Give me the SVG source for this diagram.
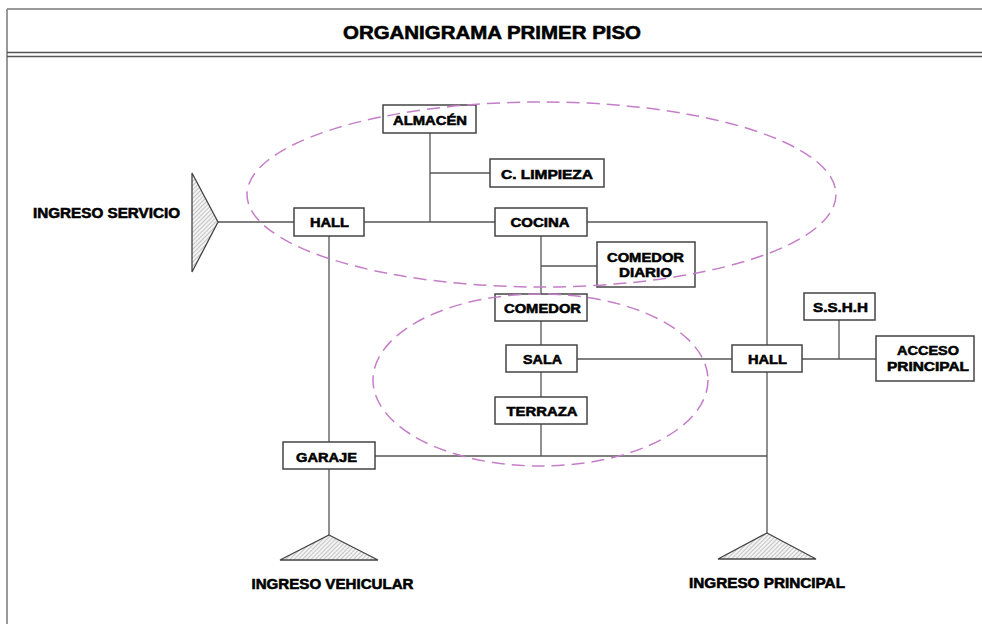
<svg xmlns="http://www.w3.org/2000/svg" width="982" height="624" viewBox="0 0 982 624">
  <defs>
    <pattern id="hatch" patternUnits="userSpaceOnUse" width="3" height="3" patternTransform="rotate(45)">
      <rect width="3" height="3" fill="#f4f4f4"/>
      <line x1="0" y1="0" x2="0" y2="3" stroke="#888" stroke-width="0.9"/>
    </pattern>
    <style>
      .frame { fill: none; stroke: #999; stroke-width: 2; }
      .rule { stroke: #555; stroke-width: 1.3; }
      .box { fill: #fff; stroke: #444; stroke-width: 1.5; }
      .wire { fill: none; stroke: #555; stroke-width: 1.3; }
      .entry { fill: url(#hatch); stroke: #444; stroke-width: 1.3; }
      .zone { fill: none; stroke: #c47ec8; stroke-width: 1.5; stroke-dasharray: 13 7; }
      text { font-family: "Liberation Sans", Arial, sans-serif; font-weight: bold; fill: #000; stroke: #000; stroke-width: 0.55; text-anchor: middle; }
      .lbl { font-size: 13px; }
      .big { font-size: 14px; }
      .title { font-size: 17.5px; }
    </style>
  </defs>

  <rect width="982" height="624" fill="#fff"/>

  <!-- sheet frame and header -->
  <g id="frame">
    <line x1="7" y1="9" x2="982" y2="9" class="frame"/>
    <line x1="7" y1="9" x2="7" y2="624" class="frame"/>
    <line x1="7" y1="52.5" x2="982" y2="52.5" class="rule"/>
    <line x1="7" y1="56.5" x2="982" y2="56.5" class="rule"/>
    <text x="492" y="39.3" class="title" textLength="298" lengthAdjust="spacingAndGlyphs">ORGANIGRAMA PRIMER PISO</text>
  </g>

  <!-- connectors -->
  <g id="connectors">
    <path class="wire" d="M218 222 H294 M364 222 H495"/>
    <path class="wire" d="M430 133 V222 M430 173 H490"/>
    <path class="wire" d="M587 222 H767 V345 M767 372 V533"/>
    <path class="wire" d="M541 236 V294 M541 266 H597"/>
    <path class="wire" d="M541 321 V345 M541 372 V397 M541 424 V456"/>
    <path class="wire" d="M577 359 H732 M802 359 H876 M839 320 V359"/>
    <path class="wire" d="M329 236 V442 M329 469 V535"/>
    <path class="wire" d="M375 456 H767"/>
  </g>

  <!-- entrances -->
  <g id="ingreso-servicio">
    <polygon class="entry" points="192,173 218,222 192,272"/>
    <text x="106.5" y="218" class="big" textLength="147" lengthAdjust="spacingAndGlyphs">INGRESO SERVICIO</text>
  </g>
  <g id="ingreso-vehicular">
    <polygon class="entry" points="329,535 378,560 280,560"/>
    <text x="332.5" y="589" class="big" textLength="162" lengthAdjust="spacingAndGlyphs">INGRESO VEHICULAR</text>
  </g>
  <g id="ingreso-principal">
    <polygon class="entry" points="767,533 816,559 718,559"/>
    <text x="767" y="588" class="big" textLength="156" lengthAdjust="spacingAndGlyphs">INGRESO PRINCIPAL</text>
  </g>

  <!-- rooms -->
  <g id="almacen">
    <rect class="box" x="383" y="105" width="93" height="28"/>
    <text x="430" y="124.5" class="lbl" textLength="74" lengthAdjust="spacingAndGlyphs">ALMACÉN</text>
  </g>
  <g id="c-limpieza">
    <rect class="box" x="490" y="159" width="114" height="28"/>
    <text x="547" y="179" class="lbl" textLength="92" lengthAdjust="spacingAndGlyphs">C. LIMPIEZA</text>
  </g>
  <g id="hall-servicio">
    <rect class="box" x="294" y="208" width="70" height="28"/>
    <text x="329.5" y="227.3" class="lbl" textLength="39" lengthAdjust="spacingAndGlyphs">HALL</text>
  </g>
  <g id="cocina">
    <rect class="box" x="495" y="208" width="92" height="28"/>
    <text x="540" y="227.3" class="lbl" textLength="59" lengthAdjust="spacingAndGlyphs">COCINA</text>
  </g>
  <g id="comedor-diario">
    <rect class="box" x="597" y="242" width="98" height="45"/>
    <text x="645.5" y="261.5" class="lbl" textLength="77" lengthAdjust="spacingAndGlyphs">COMEDOR</text>
    <text x="645.5" y="277.3" class="lbl" textLength="53" lengthAdjust="spacingAndGlyphs">DIARIO</text>
  </g>
  <g id="comedor">
    <rect class="box" x="495" y="294" width="92" height="27"/>
    <text x="542.5" y="312.7" class="lbl" textLength="77" lengthAdjust="spacingAndGlyphs">COMEDOR</text>
  </g>
  <g id="sala">
    <rect class="box" x="506" y="345" width="71" height="27"/>
    <text x="542.5" y="364.3" class="lbl" textLength="39" lengthAdjust="spacingAndGlyphs">SALA</text>
  </g>
  <g id="terraza">
    <rect class="box" x="495" y="397" width="92" height="27"/>
    <text x="542" y="415.7" class="lbl" textLength="71" lengthAdjust="spacingAndGlyphs">TERRAZA</text>
  </g>
  <g id="garaje">
    <rect class="box" x="283" y="442" width="92" height="27"/>
    <text x="326.5" y="461.7" class="lbl" textLength="61" lengthAdjust="spacingAndGlyphs">GARAJE</text>
  </g>
  <g id="hall-principal">
    <rect class="box" x="732" y="345" width="70" height="27"/>
    <text x="767.5" y="364.3" class="lbl" textLength="39" lengthAdjust="spacingAndGlyphs">HALL</text>
  </g>
  <g id="sshh">
    <rect class="box" x="804" y="293" width="71" height="27"/>
    <text x="840.5" y="312.3" class="lbl" textLength="55" lengthAdjust="spacingAndGlyphs">S.S.H.H</text>
  </g>
  <g id="acceso-principal">
    <rect class="box" x="876" y="336" width="98" height="45"/>
    <text x="928" y="355" class="lbl" textLength="62" lengthAdjust="spacingAndGlyphs">ACCESO</text>
    <text x="928" y="370.7" class="lbl" textLength="82" lengthAdjust="spacingAndGlyphs">PRINCIPAL</text>
  </g>

  <!-- service and social zones -->
  <g id="zones">
    <ellipse class="zone" cx="541.5" cy="194.5" rx="294.5" ry="92.5"/>
    <ellipse class="zone" cx="540.5" cy="380" rx="167.5" ry="86"/>
  </g>
</svg>
